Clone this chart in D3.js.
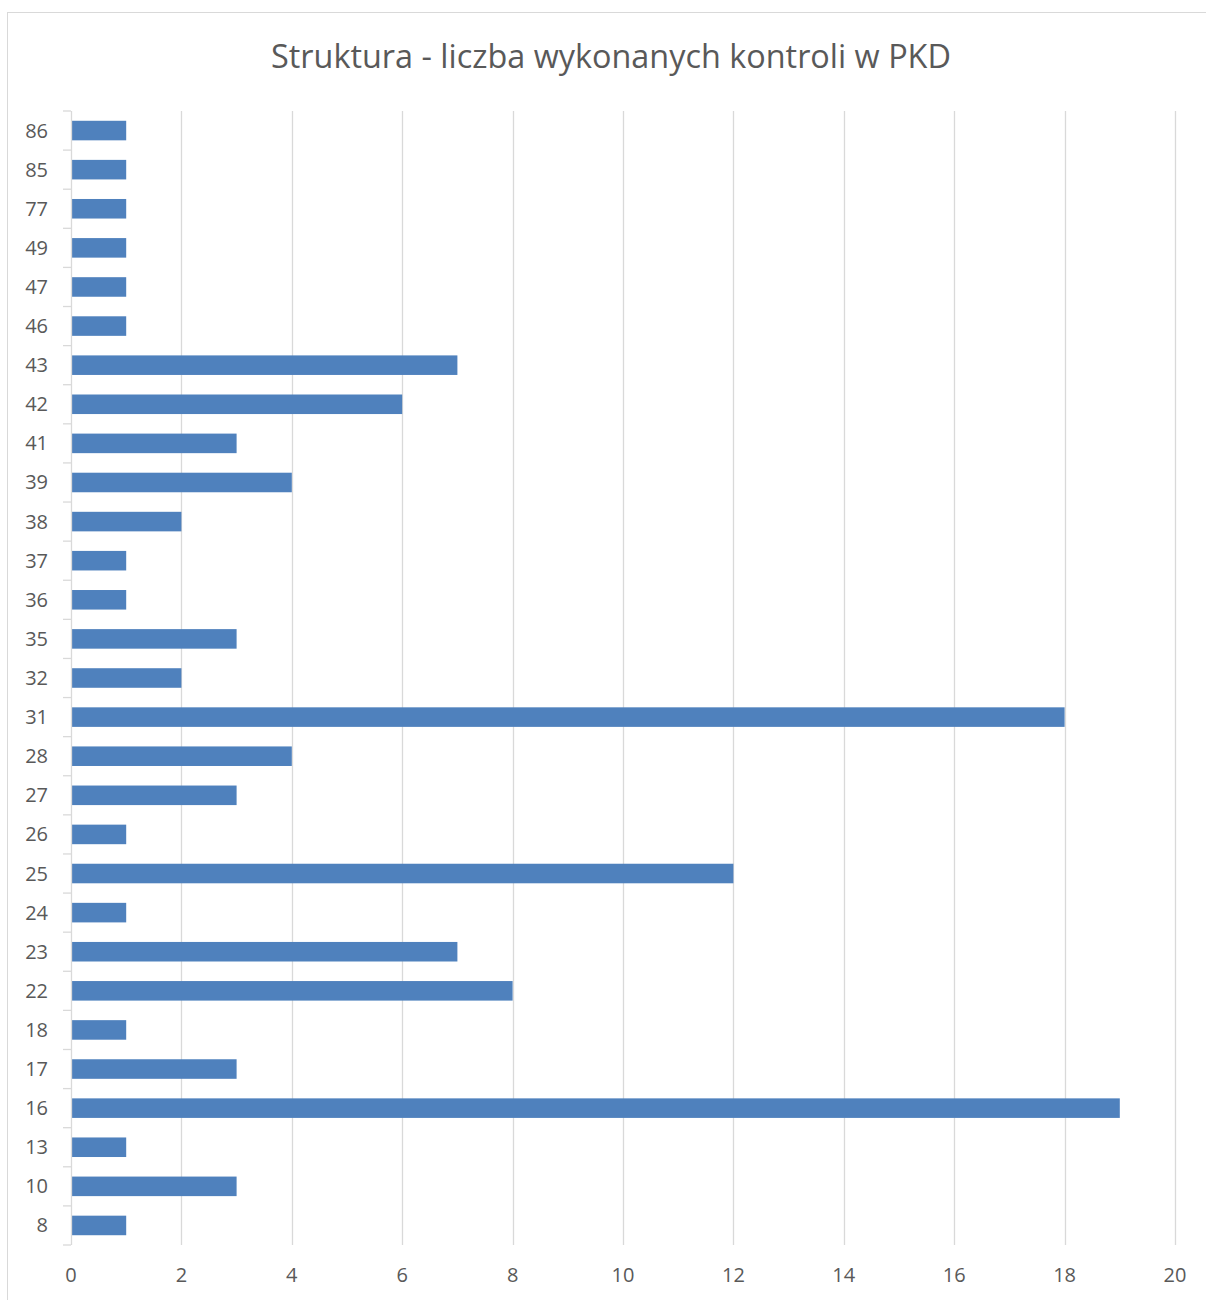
<!DOCTYPE html>
<html><head><meta charset="utf-8">
<script src="https://cdn.jsdelivr.net/npm/d3@7"></script>
<style>body{margin:0;background:#fff}svg{display:block}</style>
</head><body>
<script>
const categories = ["8","10","13","16","17","18","22","23","24","25","26","27","28","31","32","35","36","37","38","39","41","42","43","46","47","49","77","85","86"];
const values = [1,3,1,19,3,1,8,7,1,12,1,3,4,18,2,3,1,1,2,4,3,6,7,1,1,1,1,1,1];
const xTicks = [0,2,4,6,8,10,12,14,16,18,20];
const title = "Struktura - liczba wykonanych kontroli w PKD";

const W = 1206, H = 1300;
const svg = d3.select("body").append("svg").attr("width", W).attr("height", H);
const font = "'Open Sans', 'Liberation Sans', sans-serif";

svg.append("rect").attr("x", 7.5).attr("y", 12.5).attr("width", W + 10).attr("height", H + 10)
  .attr("fill", "#fff").attr("stroke", "#d9d9d9").attr("stroke-width", 1);

const m = {left: 71, right: 1175, top: 111, bottom: 1245};
const x = d3.scaleLinear().domain([0, 20]).range([m.left, m.right]);
const y = d3.scaleBand().domain(categories.slice().reverse()).range([m.top, m.bottom]).paddingInner(0.5).paddingOuter(0.25);

// grid
svg.append("g").selectAll("line").data(xTicks.filter(d => d > 0)).join("line")
  .attr("x1", d => Math.round(x(d)) + 0.5).attr("x2", d => Math.round(x(d)) + 0.5)
  .attr("y1", m.top).attr("y2", m.bottom).attr("stroke", "#d9d9d9").attr("stroke-width", 1.3);

// bars
svg.append("g").selectAll("rect").data(categories).join("rect")
  .attr("x", x(0) + 1).attr("y", d => y(d))
  .attr("width", (d, i) => x(values[i]) - x(0) - 1).attr("height", y.bandwidth())
  .attr("fill", "#4f81bd");

// y axis line and ticks
const yAxis = svg.append("g");
yAxis.append("line").attr("x1", m.left + 0.5).attr("x2", m.left + 0.5).attr("y1", m.top).attr("y2", m.bottom)
  .attr("stroke", "#d9d9d9").attr("stroke-width", 1.3);
const step = (m.bottom - m.top) / categories.length;
yAxis.selectAll("line.t").data(d3.range(categories.length + 1)).join("line").attr("class", "t")
  .attr("x1", m.left - 8).attr("x2", m.left)
  .attr("y1", i => m.top + i * step).attr("y2", i => m.top + i * step)
  .attr("stroke", "#d9d9d9").attr("stroke-width", 1.3);
yAxis.selectAll("text").data(categories).join("text")
  .attr("x", 48).attr("y", d => y(d) + y.bandwidth() / 2)
  .attr("dy", "0.35em").attr("text-anchor", "end")
  .attr("font-family", font).attr("font-size", 20).attr("fill", "#595959").text(d => d);

// x labels
svg.append("g").selectAll("text").data(xTicks).join("text")
  .attr("x", d => x(d)).attr("y", 1275).attr("dy", "0.35em").attr("text-anchor", "middle")
  .attr("font-family", font).attr("font-size", 20).attr("fill", "#595959").text(d => d);

svg.append("text").attr("x", 611).attr("y", 68).attr("text-anchor", "middle")
  .attr("font-family", font).attr("font-size", 32.4).attr("fill", "#595959").text(title);
</script>
</body></html>
